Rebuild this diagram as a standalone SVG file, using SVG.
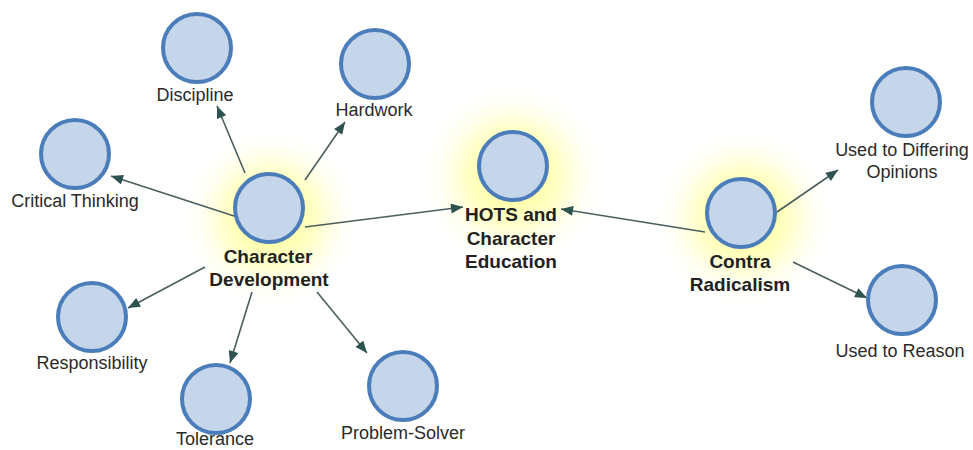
<svg xmlns="http://www.w3.org/2000/svg" width="973" height="450" viewBox="0 0 973 450">
  <defs>
    <radialGradient id="glow">
      <stop offset="0" stop-color="#ffff80" stop-opacity="1"/>
      <stop offset="0.5" stop-color="#ffffb0" stop-opacity="0.7"/>
      <stop offset="1" stop-color="#ffffff" stop-opacity="0"/>
    </radialGradient>
    <marker id="arrow" viewBox="0 0 12 10" refX="12" refY="5" markerWidth="13" markerHeight="10" markerUnits="userSpaceOnUse" orient="auto">
      <path d="M0,0 L12,5 L0,10 z" fill="#2d5350"/>
    </marker>
    <style>
      .node circle { fill: #c5d5ea; stroke: #4a7dba; stroke-width: 4; }
      .lbl { font-family: "Liberation Sans", Arial, sans-serif; font-size: 18px; fill: #2a2a2a; text-anchor: middle; }
      .bold { font-weight: bold; font-size: 19px; fill: #222; }
      .conn line { stroke: #4b5e5e; stroke-width: 1.6; marker-end: url(#arrow); }
    </style>
  </defs>
  <rect width="973" height="450" fill="#ffffff"/>

  <g id="glows">
    <circle cx="271" cy="218" r="92" fill="url(#glow)"/>
    <circle cx="513" cy="176" r="95" fill="url(#glow)"/>
    <circle cx="744" cy="218" r="92" fill="url(#glow)"/>
  </g>

  <g id="connectors" class="conn">
    <line x1="245" y1="173" x2="217" y2="106"/>
    <line x1="305" y1="180" x2="345" y2="122"/>
    <line x1="234" y1="216" x2="111" y2="176"/>
    <line x1="305" y1="227" x2="463" y2="207"/>
    <line x1="705" y1="232" x2="561" y2="209"/>
    <line x1="777" y1="212" x2="838" y2="170"/>
    <line x1="793" y1="262" x2="867" y2="298"/>
    <line x1="205" y1="267" x2="128" y2="308"/>
    <line x1="252" y1="292" x2="230" y2="363"/>
    <line x1="317" y1="292" x2="367" y2="353"/>
  </g>

  <g id="discipline" class="node">
    <circle cx="197" cy="48" r="34"/>
    <text class="lbl" x="195" y="101">Discipline</text>
  </g>
  <g id="hardwork" class="node">
    <circle cx="375" cy="64" r="34"/>
    <text class="lbl" x="374" y="116">Hardwork</text>
  </g>
  <g id="critical-thinking" class="node">
    <circle cx="75" cy="154" r="34"/>
    <text class="lbl" x="75" y="207">Critical Thinking</text>
  </g>
  <g id="character-development" class="node">
    <circle cx="269" cy="208" r="34"/>
    <text class="lbl bold" x="268" y="263">Character</text>
    <text class="lbl bold" x="269" y="286">Development</text>
  </g>
  <g id="hots" class="node">
    <circle cx="513" cy="166" r="34"/>
    <text class="lbl bold" x="511" y="221">HOTS and</text>
    <text class="lbl bold" x="511" y="245">Character</text>
    <text class="lbl bold" x="511" y="268">Education</text>
  </g>
  <g id="contra-radicalism" class="node">
    <circle cx="741" cy="213" r="34"/>
    <text class="lbl bold" x="740" y="268">Contra</text>
    <text class="lbl bold" x="740" y="291">Radicalism</text>
  </g>
  <g id="used-to-differing" class="node">
    <circle cx="906" cy="102" r="34"/>
    <text class="lbl" x="902" y="156">Used to Differing</text>
    <text class="lbl" x="902" y="178">Opinions</text>
  </g>
  <g id="used-to-reason" class="node">
    <circle cx="902" cy="300" r="34"/>
    <text class="lbl" x="900" y="357">Used to Reason</text>
  </g>
  <g id="responsibility" class="node">
    <circle cx="92" cy="317" r="34"/>
    <text class="lbl" x="92" y="369">Responsibility</text>
  </g>
  <g id="tolerance" class="node">
    <circle cx="216" cy="399" r="34"/>
    <text class="lbl" x="215" y="445">Tolerance</text>
  </g>
  <g id="problem-solver" class="node">
    <circle cx="403" cy="386" r="34"/>
    <text class="lbl" x="403" y="439">Problem-Solver</text>
  </g>
</svg>
